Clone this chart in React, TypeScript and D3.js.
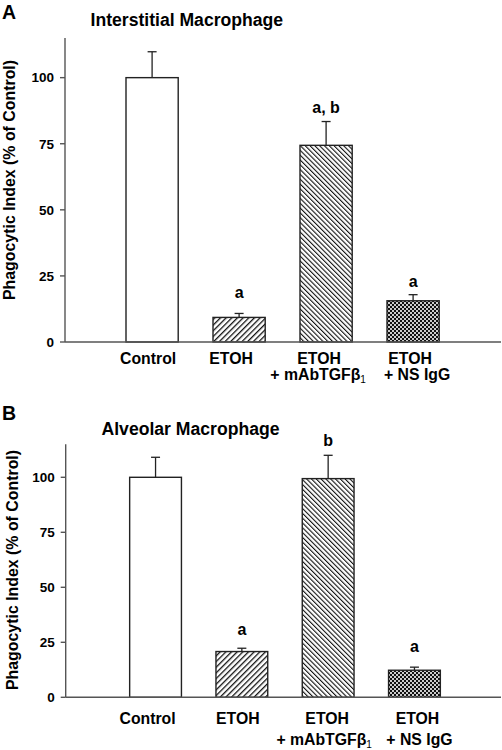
import React from "react";
import * as d3 from "d3";

const categories = ["Control", "ETOH", "ETOH + mAbTGFβ1", "ETOH + NS IgG"];
const interstitialMeans = [100, 9.3, 74.4, 15.6];
const interstitialErrors = [9.8, 1.5, 9.0, 2.3];
const interstitialLabels = ["", "a", "a, b", "a"];
const alveolarMeans = [100, 20.8, 99.4, 12.3];
const alveolarErrors = [9.1, 1.5, 10.6, 1.4];
const alveolarLabels = ["", "a", "b", "a"];
const yTicks = [0, 25, 50, 75, 100];
const yMax = 115;

const FONT = "'Liberation Sans', Arial, Helvetica, sans-serif";
const AXIS = "#555";
const fills = ["#fff", "url(#pFwd)", "url(#pBack)", "url(#pCheck)"];

type PanelCfg = {
  letter: string;
  title: string;
  titleX: number;
  titleY: number;
  letterY: number;
  axisX: number;
  axisRight: number;
  yTop: number;
  yBottom: number;
  bandR: [number, number];
  labelYOffsets: number[];
  yLabelX: number;
  yLabelY: number;
  line1Y: number;
  line2Y: number;
  line1Dx: number[];
  line2Dx: number[];
  means: number[];
  errors: number[];
  labels: string[];
};

function Panel({ cfg }: { cfg: PanelCfg }) {
  const x = d3
    .scaleBand<string>()
    .domain(categories)
    .range(cfg.bandR)
    .paddingInner(0.4)
    .paddingOuter(0.2);
  const y = d3.scaleLinear().domain([0, yMax]).range([cfg.yBottom, cfg.yTop]);
  const bw = x.bandwidth();
  const cap = 4.5;
  return (
    <g>
      <text x={2} y={cfg.letterY} fontFamily={FONT} fontWeight="bold" fontSize={19.5}>
        {cfg.letter}
      </text>
      <text x={cfg.titleX} y={cfg.titleY} fontFamily={FONT} fontWeight="bold" fontSize={17.6}>
        {cfg.title}
      </text>
      <text
        transform={`translate(${cfg.yLabelX},${cfg.yLabelY}) rotate(-90)`}
        textAnchor="middle"
        fontFamily={FONT}
        fontWeight="bold"
        fontSize={15.9}
      >
        Phagocytic Index (% of Control)
      </text>
      {categories.map((c, i) => {
        const x0 = x(c)!;
        const top = y(cfg.means[i]);
        const et = y(cfg.means[i] + cfg.errors[i]);
        const cx = x0 + bw / 2;
        return (
          <g key={c}>
            <rect x={x0} y={top} width={bw} height={cfg.yBottom - top} fill={fills[i]} stroke="#222" strokeWidth={1.4} />
            <line x1={cx} x2={cx} y1={top} y2={et} stroke="#222" strokeWidth={1.3} />
            <line x1={cx - cap} x2={cx + cap} y1={et} y2={et} stroke="#222" strokeWidth={1.3} />
            {cfg.labels[i] && (
              <text x={cx} y={et - cfg.labelYOffsets[i]} textAnchor="middle" fontFamily={FONT} fontWeight="bold" fontSize={16}>
                {cfg.labels[i]}
              </text>
            )}
          </g>
        );
      })}
      <line x1={cfg.axisX} x2={cfg.axisX} y1={cfg.yTop} y2={cfg.yBottom} stroke={AXIS} strokeWidth={1.4} />
      <line x1={cfg.axisX} x2={cfg.axisRight} y1={cfg.yBottom} y2={cfg.yBottom} stroke={AXIS} strokeWidth={1.4} />
      {yTicks.map((t) => (
        <g key={t}>
          <line x1={cfg.axisX - 5} x2={cfg.axisX} y1={y(t)} y2={y(t)} stroke={AXIS} strokeWidth={1.4} />
          <text x={cfg.axisX - 11} y={y(t) + 4.8} textAnchor="end" fontFamily={FONT} fontWeight="bold" fontSize={13.5}>
            {t}
          </text>
        </g>
      ))}
      {categories.map((c, i) => {
        const cx = x(c)! + bw / 2;
        const parts = c.split(" + ");
        return (
          <g key={"l" + c}>
            <text x={cx + cfg.line1Dx[i]} y={cfg.line1Y} textAnchor="middle" fontFamily={FONT} fontWeight="bold" fontSize={15.8}>
              {parts[0]}
            </text>
            {parts[1] && (
              <text x={cx + cfg.line2Dx[i]} y={cfg.line2Y} textAnchor="middle" fontFamily={FONT} fontWeight="bold" fontSize={15.8}>
                {parts[1].endsWith("β1") ? (
                  <>
                    {"+ " + parts[1].slice(0, -1)}
                    <tspan fontSize={10} fontWeight="normal" dy={3}>1</tspan>
                  </>
                ) : (
                  "+ " + parts[1]
                )}
              </text>
            )}
          </g>
        );
      })}
    </g>
  );
}

const panelA: PanelCfg = {
  letter: "A",
  title: "Interstitial Macrophage",
  titleX: 90.5,
  titleY: 26,
  letterY: 18.5,
  axisX: 65,
  axisRight: 501,
  yTop: 38,
  yBottom: 342,
  bandR: [108.6, 456.6],
  labelYOffsets: [0, 15, 9, 8],
  yLabelX: 15,
  yLabelY: 180,
  line1Y: 364,
  line2Y: 380,
  line1Dx: [-4, -8, -7, -3],
  line2Dx: [0, 0, -8, 4],
  means: interstitialMeans,
  errors: interstitialErrors,
  labels: interstitialLabels,
};

const panelB: PanelCfg = {
  letter: "B",
  title: "Alveolar Macrophage",
  titleX: 101.5,
  titleY: 435,
  letterY: 420,
  axisX: 65.7,
  axisRight: 501,
  yTop: 444.3,
  yBottom: 697.3,
  bandR: [112.4, 457.6],
  labelYOffsets: [0, 13, 9, 15],
  yLabelX: 18,
  yLabelY: 570,
  line1Y: 723.5,
  line2Y: 745,
  line1Dx: [-8, -4, -1, 3],
  line2Dx: [0, 0, -4, 5],
  means: alveolarMeans,
  errors: alveolarErrors,
  labels: alveolarLabels,
};

export default function App() {
  return (
    <svg
      width={502}
      height={750}
      style={{ position: "absolute", left: 0, top: 0, background: "#fff" }}
    >
      <defs>
        <pattern id="pFwd" width={4} height={4} patternUnits="userSpaceOnUse" patternTransform="rotate(45)">
          <rect width={4} height={4} fill="#fff" />
          <line x1={0} y1={0} x2={0} y2={4} stroke="#111" strokeWidth={2.6} />
        </pattern>
        <pattern id="pBack" width={3.4} height={3.4} patternUnits="userSpaceOnUse" patternTransform="rotate(-45)">
          <rect width={3.4} height={3.4} fill="#fff" />
          <line x1={0} y1={0} x2={0} y2={3.4} stroke="#111" strokeWidth={2.2} />
        </pattern>
        <pattern id="pCheck" width={4} height={4} patternUnits="userSpaceOnUse">
          <rect width={4} height={4} fill="#ccc" />
          <rect x={0} y={0} width={2} height={2} fill="#111" />
          <rect x={2} y={2} width={2} height={2} fill="#111" />
        </pattern>
      </defs>
      <rect width={502} height={750} fill="#fff" />
      <Panel cfg={panelA} />
      <Panel cfg={panelB} />
    </svg>
  );
}
